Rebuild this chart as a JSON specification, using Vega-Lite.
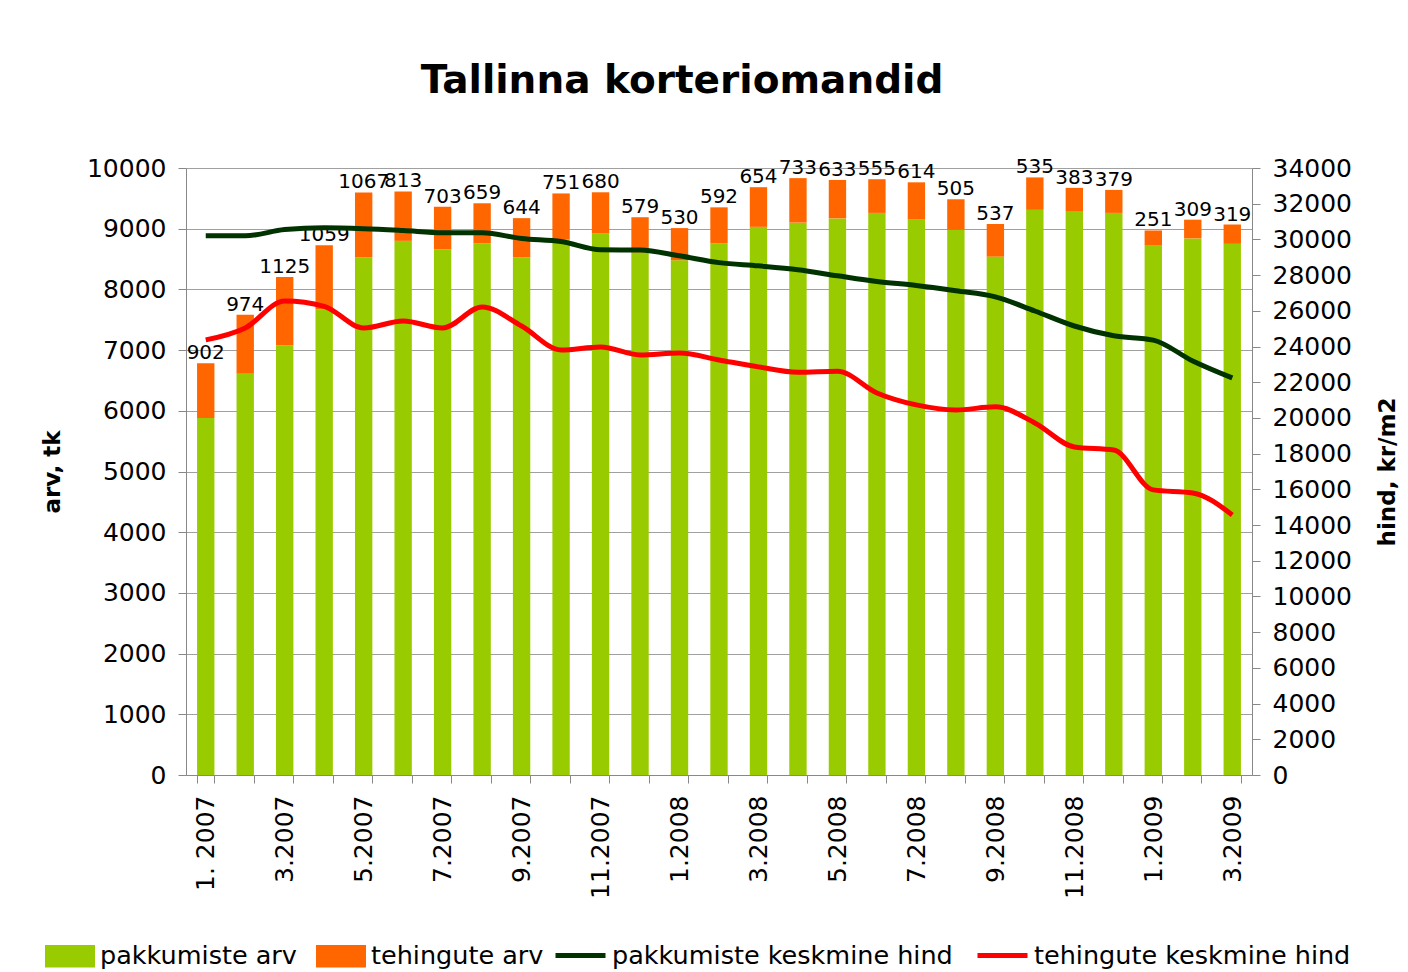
{
  "$schema": "https://vega.github.io/schema/vega-lite/v6.json",
  "width": 1066,
  "height": 607,
  "autosize": "none",
  "padding": {"left": 186, "top": 168, "right": 156, "bottom": 197},
  "background": "white",
  "config": {
    "font": "DejaVu Sans",
    "view": {"stroke": null},
    "axis": {"labelFont": "DejaVu Sans", "titleFont": "DejaVu Sans", "labelColor": "black", "titleColor": "black"}
  },
  "title": {
    "text": "Tallinna korteriomandid",
    "font": "DejaVu Sans",
    "fontSize": 39,
    "fontWeight": "bold",
    "color": "black",
    "anchor": "middle",
    "dx": -37,
    "offset": 55
  },
  "data": {
    "values": [
      {"kuu": "1. 2007", "pakk": 5880, "teh": 902, "pakkHind": 30200, "tehHind": 24370},
      {"kuu": "2.2007", "pakk": 6610, "teh": 974, "pakkHind": 30200, "tehHind": 25040},
      {"kuu": "3.2007", "pakk": 7080, "teh": 1125, "pakkHind": 30550, "tehHind": 26550},
      {"kuu": "4.2007", "pakk": 7670, "teh": 1059, "pakkHind": 30650, "tehHind": 26250},
      {"kuu": "5.2007", "pakk": 8530, "teh": 1067, "pakkHind": 30600, "tehHind": 25040},
      {"kuu": "6.2007", "pakk": 8800, "teh": 813, "pakkHind": 30500, "tehHind": 25430},
      {"kuu": "7.2007", "pakk": 8660, "teh": 703, "pakkHind": 30380, "tehHind": 25040},
      {"kuu": "8.2007", "pakk": 8760, "teh": 659, "pakkHind": 30370, "tehHind": 26220},
      {"kuu": "9.2007", "pakk": 8530, "teh": 644, "pakkHind": 30050, "tehHind": 25150},
      {"kuu": "10.2007", "pakk": 8830, "teh": 751, "pakkHind": 29880, "tehHind": 23810},
      {"kuu": "11.2007", "pakk": 8920, "teh": 680, "pakkHind": 29420, "tehHind": 23980},
      {"kuu": "12.2007", "pakk": 8610, "teh": 579, "pakkHind": 29400, "tehHind": 23530},
      {"kuu": "1.2008", "pakk": 8480, "teh": 530, "pakkHind": 29080, "tehHind": 23640},
      {"kuu": "2.2008", "pakk": 8760, "teh": 592, "pakkHind": 28700, "tehHind": 23250},
      {"kuu": "3.2008", "pakk": 9030, "teh": 654, "pakkHind": 28520, "tehHind": 22860},
      {"kuu": "4.2008", "pakk": 9100, "teh": 733, "pakkHind": 28300, "tehHind": 22560},
      {"kuu": "5.2008", "pakk": 9170, "teh": 633, "pakkHind": 27960, "tehHind": 22620},
      {"kuu": "6.2008", "pakk": 9260, "teh": 555, "pakkHind": 27640, "tehHind": 21400},
      {"kuu": "7.2008", "pakk": 9150, "teh": 614, "pakkHind": 27420, "tehHind": 20730},
      {"kuu": "8.2008", "pakk": 8980, "teh": 505, "pakkHind": 27120, "tehHind": 20450},
      {"kuu": "9.2008", "pakk": 8540, "teh": 537, "pakkHind": 26780, "tehHind": 20620},
      {"kuu": "10.2008", "pakk": 9310, "teh": 535, "pakkHind": 25990, "tehHind": 19720},
      {"kuu": "11.2008", "pakk": 9290, "teh": 383, "pakkHind": 25150, "tehHind": 18375},
      {"kuu": "12.2008", "pakk": 9260, "teh": 379, "pakkHind": 24600, "tehHind": 18200},
      {"kuu": "1.2009", "pakk": 8720, "teh": 251, "pakkHind": 24360, "tehHind": 15970},
      {"kuu": "2.2009", "pakk": 8840, "teh": 309, "pakkHind": 23190, "tehHind": 15800},
      {"kuu": "3.2009", "pakk": 8750, "teh": 319, "pakkHind": 22240, "tehHind": 14570}
    ]
  },
  "encoding": {
    "x": {
      "field": "kuu",
      "type": "nominal",
      "sort": null,
      "scale": {"paddingInner": 0.56, "paddingOuter": 0.28},
      "axis": {
        "title": null,
        "labelAngle": -90,
        "labelFontSize": 25,
        "labelPadding": 12,
        "labelExpr": "parseInt(split(datum.label, '.')[0]) % 2 == 1 ? datum.label : ''",
        "tickBand": "extent",
        "tickSize": 8,
        "tickColor": "#888888",
        "domainColor": "#888888",
        "labelOverlap": false
      }
    }
  },
  "layer": [
    {
      "transform": [{"fold": ["pakk", "teh"], "as": ["seeria", "arv"]}],
      "mark": {"type": "bar"},
      "encoding": {
        "y": {
          "field": "arv",
          "type": "quantitative",
          "stack": "zero",
          "scale": {"domain": [0, 10000], "nice": false},
          "axis": {
            "title": "arv, tk",
            "format": "d",
            "titleFontSize": 23,
            "titleFontWeight": "bold",
            "titlePadding": 22,
            "labelFontSize": 25,
            "labelPadding": 12,
            "values": [0, 1000, 2000, 3000, 4000, 5000, 6000, 7000, 8000, 9000, 10000],
            "tickSize": 8,
            "tickColor": "#888888",
            "domainColor": "#888888",
            "grid": true,
            "gridColor": "#A0A0A0"
          }
        },
        "fill": {
          "field": "seeria",
          "type": "nominal",
          "scale": {"domain": ["pakk", "teh"], "range": ["#99CC00", "#FF6600"]},
          "legend": {
            "title": null,
            "orient": "none",
            "direction": "horizontal",
            "legendX": -141,
            "legendY": 763,
            "labelFont": "DejaVu Sans",
            "labelFontSize": 25.5,
            "labelColor": "black",
            "labelLimit": 600,
            "labelOffset": 5,
            "columnPadding": 19,
            "symbolType": "M-1,-0.45L1,-0.45L1,0.45L-1,0.45Z",
            "symbolSize": 2500,
            "symbolStrokeWidth": 0,
            "labelExpr": "datum.label == 'pakk' ? 'pakkumiste arv' : 'tehingute arv'"
          }
        },
        "order": {"field": "seeria", "sort": "ascending"}
      }
    },
    {
      "transform": [{"fold": ["pakk", "teh"], "as": ["seeria", "arv"]}],
      "mark": {"type": "text", "fontSize": 20, "baseline": "bottom", "dy": 0, "color": "black"},
      "encoding": {
        "y": {
          "aggregate": "sum",
          "field": "arv",
          "type": "quantitative",
          "scale": {"domain": [0, 10000], "nice": false},
          "axis": null
        },
        "text": {"field": "teh", "type": "quantitative"}
      }
    },
    {
      "transform": [{"fold": ["pakkHind", "tehHind"], "as": ["hseeria", "hind"]}],
      "mark": {"type": "line", "strokeWidth": 5, "interpolate": "monotone"},
      "encoding": {
        "y": {
          "field": "hind",
          "type": "quantitative",
          "scale": {"domain": [0, 34000], "nice": false},
          "axis": {
            "orient": "right",
            "title": "hind, kr/m2",
            "format": "d",
            "titleFontSize": 23,
            "titleFontWeight": "bold",
            "titlePadding": 48,
            "titleAngle": -90,
            "labelFontSize": 25,
            "labelPadding": 12,
            "values": [0, 2000, 4000, 6000, 8000, 10000, 12000, 14000, 16000, 18000, 20000, 22000, 24000, 26000, 28000, 30000, 32000, 34000],
            "tickSize": 8,
            "tickColor": "#888888",
            "domainColor": "#888888",
            "grid": false
          }
        },
        "stroke": {
          "field": "hseeria",
          "type": "nominal",
          "scale": {"domain": ["pakkHind", "tehHind"], "range": ["#003300", "#FF0000"]},
          "legend": {
            "title": null,
            "orient": "none",
            "direction": "horizontal",
            "legendX": 367,
            "legendY": 760,
            "labelFont": "DejaVu Sans",
            "labelFontSize": 25.5,
            "labelColor": "black",
            "labelLimit": 600,
            "labelOffset": 4,
            "columnPadding": 14,
            "symbolType": "stroke",
            "symbolSize": 2500,
            "symbolStrokeWidth": 5,
            "labelExpr": "datum.label == 'pakkHind' ? 'pakkumiste keskmine hind' : 'tehingute keskmine hind'"
          }
        }
      }
    }
  ],
  "resolve": {"scale": {"y": "independent"}}
}
